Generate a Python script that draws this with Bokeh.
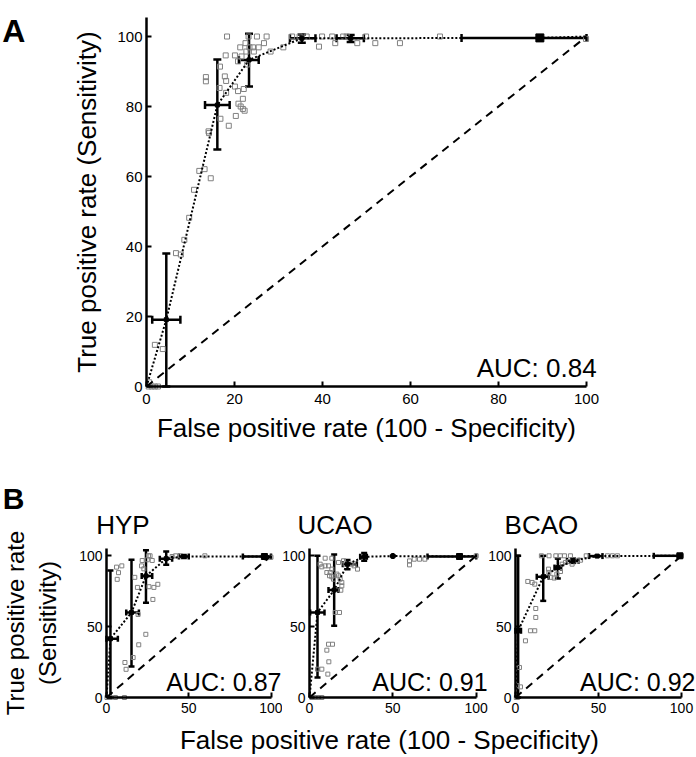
from bokeh.plotting import figure
from bokeh.models import ColumnDataSource, Whisker, TeeHead, Label, Range1d, FixedTicker
from bokeh.layouts import column, row
from bokeh.embed import file_html
from bokeh.resources import INLINE

FONT = "Liberation Sans"

# ---------------- Panel A: all groups ----------------
a_curve_x = [0, 4.5, 16.1, 23.3, 35.3, 46.4, 89.4, 100]
a_curve_y = [0, 19.1, 80.4, 93.3, 99.5, 99.5, 99.6, 100]
a_err_x = [4.5, 16.1, 23.3, 35.3, 46.4, 89.4]
a_err_y = [19.1, 80.4, 93.3, 99.5, 99.5, 99.6]
a_err_ylo = [0, 67.7, 85.7, 98.2, 98.4, 99.6]
a_err_yhi = [38.0, 93.4, 100.8, 100.6, 100.4, 99.6]
a_err_xlo = [1.3, 13.3, 21.0, 32.6, 43.2, 71.6]
a_err_xhi = [7.7, 18.9, 25.5, 38.4, 49.4, 100.0]
a_pts_x = [18.3, 25.1, 23.2, 27.3, 18.0, 20.1, 21.3, 22.5, 23.4, 24.2, 25.5, 26.7, 22.7, 24.4,
           28.2, 31.1, 16.7, 21.6, 20.8, 22.9, 13.5, 13.5, 17.8, 18.1, 16.6, 20.1, 22.1, 20.8,
           18.1, 21.9, 20.9, 21.4, 21.9, 22.3, 20.3, 16.8, 18.7, 14.1, 14.2, 6.7, 7.8, 8.6, 9.7,
           10.8, 12.0, 13.2, 14.6, 33.1, 34.8, 36.4, 39.2, 39.9, 42.2, 42.9, 44.7, 45.5, 47.9,
           49.9, 52.0, 57.6, 66.7, 99.9, 1.9, 3.7, 0.5, 1.2, 1.9, 2.6, 0.6]
a_pts_y = [100, 100, 100, 100, 94.6, 94.6, 96.9, 98.1, 96.9, 96.9, 96.9, 98.1, 95.7, 95.7,
           95.7, 96.9, 91.4, 94.3, 92.9, 92.0, 88.4, 87.2, 88.6, 87.3, 85.3, 85.7, 85.0, 84.4,
           83.9, 82.2, 80.8, 80.0, 79.3, 78.8, 77.3, 76.5, 74.5, 72.9, 72.4, 38.1, 37.7, 41.9, 48.2,
           56.2, 61.6, 62.1, 59.5, 100, 100, 100, 97.1, 100, 100, 98.1, 100, 100, 98.1,
           100, 98.1, 98.1, 100, 99.3, 11.9, 10.7, 0, 0, 0, 0, 1.2]
a_auc = "AUC: 0.84"

# ---------------- Panel B: per group ----------------
groups = ["HYP", "UCAO", "BCAO"]
aucs = ["AUC: 0.87", "AUC: 0.91", "AUC: 0.92"]

hyp_curve_x = [0, 2.4, 15.2, 24.0, 36.3, 47.0, 96.0, 100]
hyp_curve_y = [0, 41.5, 60.0, 85.8, 98.0, 99.5, 99.5, 100]
hyp_err_x = [2.4, 15.2, 24.0, 36.3, 47.0, 96.0]
hyp_err_y = [41.5, 60.0, 85.8, 98.0, 99.5, 99.5]
hyp_err_ylo = [0, 21.8, 66.8, 93.6, 98.5, 99.0]
hyp_err_yhi = [89.6, 97.2, 104.0, 103.0, 100.5, 100.0]
hyp_err_xlo = [0.0, 12.0, 21.4, 32.4, 44.0, 82.9]
hyp_err_xhi = [6.9, 19.7, 27.8, 39.9, 50.0, 100.0]
hyp_pts_x = [6.1, 7.3, 6.5, 9.3, 17.2, 18.8, 21.7, 21.3, 22.7, 24.8, 27.8, 25.8, 28.8, 31.2,
             28.2, 11.2, 11.9, 16.2, 19.2, 19.6, 23.9, 39.9, 42.0, 45.0, 59.8, 97.1, 100,
             0.3, 2.4, 5.4, 10.9, 25.5, 26.5]
hyp_pts_y = [92.0, 88.1, 83.4, 92.9, 84.8, 77.7, 96.7, 92.9, 90.8, 97.2, 96.7, 78.2, 77.7, 79.9,
             69.2, 24.7, 19.9, 28.2, 58.6, 37.2, 44.6, 99.5, 100, 100, 100, 98.5, 99,
             0, 0, 0, 0, 100, 100]

ucao_curve_x = [0, 4.8, 14.8, 22.8, 32.8, 50.0, 90.0, 100]
ucao_curve_y = [0, 60.0, 75.8, 94.1, 99.3, 99.8, 99.5, 100]
ucao_err_x = [4.8, 14.8, 22.8, 32.8, 50.0, 90.0]
ucao_err_y = [60.0, 75.8, 94.1, 99.3, 99.8, 99.5]
ucao_err_ylo = [14.1, 50.6, 90.5, 96.5, 99.8, 99.5]
ucao_err_yhi = [100.0, 101.0, 97.0, 102.0, 99.8, 99.5]
ucao_err_xlo = [0.4, 11.4, 20.0, 30.4, 50.0, 70.8]
ucao_err_xhi = [9.0, 17.4, 28.4, 34.4, 50.0, 100.0]
ucao_pts_x = [6.4, 7.4, 9.4, 11.4, 13.4, 10.4, 12.4, 12.0, 13.4, 14.4, 16.4, 17.4, 18.4, 19.4,
              19.4, 18.8, 9.4, 13.4, 17.4, 20.4, 21.4, 25.4, 26.8, 28.8, 15.4, 18.0, 11.4, 13.8,
              10.4, 11.6, 11.0, 7.4, 4.8, 1.4, 3.4, 5.4, 7.4, 60.0, 60.0, 62.8, 66.0, 69.2, 100]
ucao_pts_y = [94.1, 92.2, 92.9, 92.9, 90.6, 88.2, 88.2, 85.9, 85.2, 83.5, 87.1, 85.9, 83.5, 81.2,
              78.8, 75.7, 98.3, 98.3, 95.3, 96.5, 94.1, 94.1, 92.9, 90.6, 60.0, 60.0, 37.6, 37.6,
              33.4, 25.2, 16.5, 20.0, 20.0, 0, 0, 0, 0, 96.4, 93.6, 97.6, 97.6, 97.6, 100]

bcao_curve_x = [0, 1.6, 16.7, 25.5, 34.7, 49.2, 99.0, 100]
bcao_curve_y = [0, 47.1, 85.2, 91.7, 96.5, 99.8, 100, 100]
bcao_err_x = [1.6, 16.7, 25.5, 34.7, 49.2, 99.0]
bcao_err_y = [47.1, 85.2, 91.7, 96.5, 99.8, 100]
bcao_err_ylo = [0, 68.2, 84.0, 95.0, 99.8, 100]
bcao_err_yhi = [100, 100, 98.0, 98.0, 99.8, 100]
bcao_err_xlo = [0, 12.8, 23.5, 31.0, 44.3, 83.3]
bcao_err_xhi = [3.3, 20.0, 27.5, 38.0, 52.4, 100]
bcao_pts_x = [7.4, 10.0, 11.6, 12.2, 12.2, 9.0, 11.6, 6.0, 2.4, 1.0, 3.0, 15.6, 20.2, 24.3,
              27.0, 29.5, 33.1, 19.9, 20.1, 21.3, 23.3, 24.9, 27.1, 28.1, 30.1, 32.1, 34.1,
              37.1, 39.2, 42.6, 55.4, 58.4, 61.4, 100, 0.5, 1.2]
bcao_pts_y = [81.9, 81.2, 80.0, 62.8, 56.5, 47.1, 47.1, 40.0, 21.2, 8.3, 7.5, 100, 100, 100,
              100, 100, 100, 90.6, 88.3, 84.8, 84.3, 87.1, 88.9, 94.1, 95.3, 95.9, 94.1,
              96.5, 96.9, 100, 100, 100, 100, 100, 0, 0]

chance = [0, 100]
a_ticks = [0, 20, 40, 60, 80, 100]
b_ticks = [0, 50, 100]
x_title = "False positive rate (100 - Specificity)"
y_title = "True positive rate (Sensitivity)"


def make_panel(width, height, x0_px, x_scale, y0_px, y_scale, ytop):
    """Figure whose frame fills the canvas; axes are pinned at data 0."""
    xr = Range1d(-x0_px / x_scale, (width - x0_px) / x_scale)
    yr = Range1d((y0_px - height) / y_scale, y0_px / y_scale)
    p = figure(frame_width=width, frame_height=height, x_range=xr, y_range=yr,
               min_border=0, output_backend="svg", toolbar_location=None)
    p.xaxis.fixed_location = 0
    p.yaxis.fixed_location = 0
    p.xaxis[0].bounds = (0, 100)
    p.yaxis[0].bounds = (0, ytop)
    p.grid.visible = False
    p.outline_line_color = None
    p.background_fill_color = "white"
    p.border_fill_color = "white"
    return p


def style_axes(p, ticks, tick_size, label_size):
    for ax in (p.xaxis[0], p.yaxis[0]):
        ax.ticker = FixedTicker(ticks=ticks, minor_ticks=[])
        ax.axis_line_width = 2.5
        ax.axis_line_color = "black"
        ax.major_tick_line_width = 2
        ax.major_tick_line_color = "black"
        ax.major_tick_in = 5
        ax.major_tick_out = 0
        ax.minor_tick_line_color = None
        ax.major_label_text_font = FONT
        ax.major_label_text_font_size = tick_size
        ax.major_label_text_color = "black"
        ax.axis_label_text_font = FONT
        ax.axis_label_text_font_size = label_size
        ax.axis_label_text_font_style = "normal"
        ax.axis_label_text_color = "black"


def draw_roc(p, cx, cy, ex, ey, eylo, eyhi, exlo, exhi, px, py, cap, sq, big):
    p.scatter(px, py, marker="square", size=sq, line_color="#808080",
              fill_color=None, line_width=1)
    p.line(chance, chance, line_color="black", line_width=2, line_dash="8 6")
    p.line(cx, cy, line_color="black", line_width=2, line_dash="2 2")
    src = ColumnDataSource(dict(x=ex, y=ey, ylo=eylo, yhi=eyhi, xlo=exlo, xhi=exhi))
    p.add_layout(Whisker(source=src, base="x", lower="ylo", upper="yhi", dimension="height",
                         line_width=2.5, line_color="black",
                         lower_head=TeeHead(size=cap, line_width=2.5, line_color="black"),
                         upper_head=TeeHead(size=cap, line_width=2.5, line_color="black")))
    p.add_layout(Whisker(source=src, base="y", lower="xlo", upper="xhi", dimension="width",
                         line_width=2.5, line_color="black",
                         lower_head=TeeHead(size=cap, line_width=2.5, line_color="black"),
                         upper_head=TeeHead(size=cap, line_width=2.5, line_color="black")))
    p.scatter(ex[:-1], ey[:-1], marker="square", size=4, color="black")
    p.scatter(ex[-1:], ey[-1:], marker="square", size=big, color="black")


def text_label(p, x, y, txt, size, align="left", bold=False, baseline="alphabetic"):
    p.add_layout(Label(x=x, y=y, text=txt, text_align=align, text_baseline=baseline,
                       text_font=FONT, text_font_size=size,
                       text_font_style="bold" if bold else "normal", text_color="black"))


# ---------------- Figure A ----------------
pa = make_panel(607, 470, 146, 4.4, 386, 3.5, 105.4)
style_axes(pa, a_ticks, "15px", "26px")
pa.xaxis[0].axis_label = x_title
pa.yaxis[0].axis_label = y_title
pa.xaxis[0].major_label_standoff = 7
pa.xaxis[0].axis_label_standoff = 6
pa.yaxis[0].major_label_standoff = 4
pa.yaxis[0].axis_label_standoff = 12
draw_roc(pa, a_curve_x, a_curve_y, a_err_x, a_err_y, a_err_ylo, a_err_yhi, a_err_xlo, a_err_xhi,
         a_pts_x, a_pts_y, 8, 5, 8)
text_label(pa, 102.3, 5.4, a_auc, "26px", align="right")
text_label(pa, -32.8, 101.7, "A", "32px", bold=True)

# ---------------- Figures B ----------------
b_data = [
    (hyp_curve_x, hyp_curve_y, hyp_err_x, hyp_err_y, hyp_err_ylo, hyp_err_yhi, hyp_err_xlo, hyp_err_xhi, hyp_pts_x, hyp_pts_y),
    (ucao_curve_x, ucao_curve_y, ucao_err_x, ucao_err_y, ucao_err_ylo, ucao_err_yhi, ucao_err_xlo, ucao_err_xhi, ucao_pts_x, ucao_pts_y),
    (bcao_curve_x, bcao_curve_y, bcao_err_x, bcao_err_y, bcao_err_ylo, bcao_err_yhi, bcao_err_xlo, bcao_err_xhi, bcao_pts_x, bcao_pts_y),
]
b_width = [282, 206, 208]
b_x0 = [106, 27, 27]
b_xscale = [1.645, 1.667, 1.66]
b_auc_x = [106.4, 106.8, 108.4]
b_title_x = [-6.3, -7.2, -6.6]

b_figs = []
for i in range(3):
    p = make_panel(b_width[i], 251, b_x0[i], b_xscale[i], 227, 1.417, 105)
    style_axes(p, b_ticks, "14px", "26px")
    p.xaxis[0].major_label_standoff = 5
    p.yaxis[0].major_label_standoff = 4
    if i == 0:
        p.yaxis[0].axis_label = "True positive rate\n(Sensitivity)"
        p.yaxis[0].axis_label_text_font_size = "24px"
        p.yaxis[0].axis_label_standoff = 15
        text_label(p, -63.0, 140.4, "B", "30px", bold=True)
    draw_roc(p, *b_data[i], 6, 4, 6)
    text_label(p, b_title_x[i], 121.4, groups[i], "26px")
    text_label(p, b_auc_x[i], 10.6, aucs[i], "25px", align="right")
    b_figs.append(p)

# shared x-axis title for panel B
cap_fig = figure(frame_width=696, frame_height=36, x_range=Range1d(0, 696), y_range=Range1d(0, 36),
                 min_border=0, x_axis_location=None, y_axis_location=None,
                 output_backend="svg", toolbar_location=None)
cap_fig.grid.visible = False
cap_fig.outline_line_color = None
text_label(cap_fig, 389, 18, x_title, "26px", align="center", baseline="middle")

layout = column(pa, row(*b_figs), cap_fig)
open("out.html", "w").write(file_html(layout, INLINE))
